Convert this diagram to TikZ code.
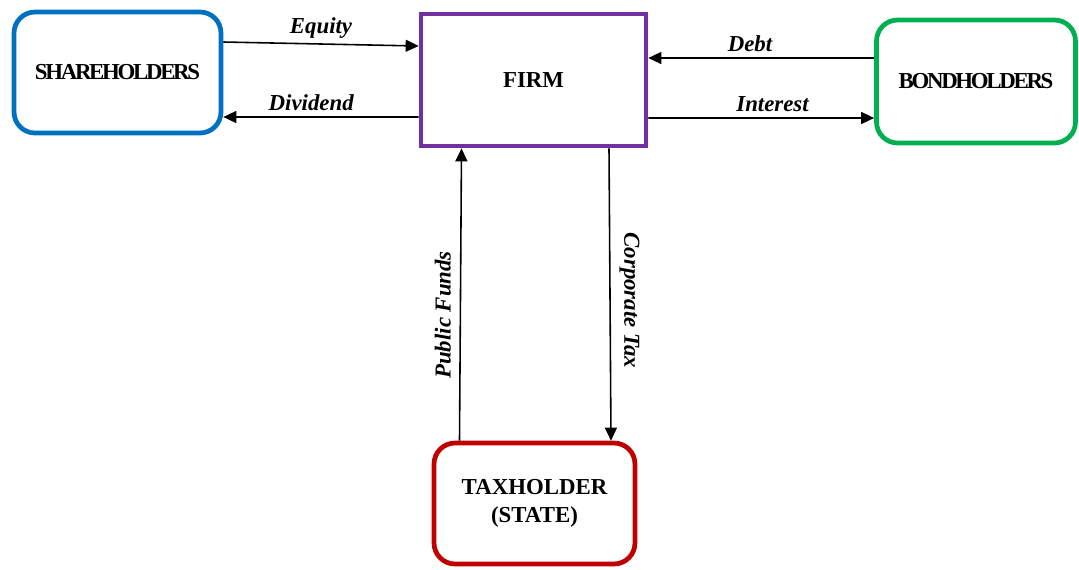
\documentclass[tikz,border=0pt]{standalone}
\usepackage{fontspec}
\setmainfont{Liberation Serif}
\usetikzlibrary{arrows.meta,calc}
\definecolor{shareblue}{RGB}{0,112,192}
\definecolor{firmpurple}{RGB}{112,48,160}
\definecolor{bondgreen}{RGB}{0,176,80}
\definecolor{taxred}{RGB}{192,0,0}

\begin{document}
\begin{tikzpicture}[x=0.02cm,y=-0.02cm,
  party/.style={draw, line width=2.7pt, rounded corners=0.42cm, align=center,
    font=\fontsize{13}{16}\selectfont\bfseries},
  squeezed/.style={font=\fontsize{13}{16}\selectfont\bfseries\addfontfeature{LetterSpace=-10}},
  flow/.style={line width=0.9pt, -{Triangle[length=2.6mm,width=2.4mm]}},
  lbl/.style={font=\fontsize{13}{15}\selectfont\bfseries\itshape, inner sep=1pt}]
\useasboundingbox (0,0) rectangle (1079,569);

% parties
\node[party, squeezed, draw=shareblue, minimum width=4.14cm, minimum height=2.42cm] (share) at (117.5,72.5) {SHAREHOLDERS};
\node[party, draw=firmpurple, rounded corners=0pt, minimum width=4.5cm, minimum height=2.64cm] (firm) at (533.5,80) {FIRM};
\node[party, squeezed, draw=bondgreen, minimum width=3.98cm, minimum height=2.46cm] (bond) at (976,81.5) {BONDHOLDERS};
\node[party, draw=taxred, minimum width=4.02cm, minimum height=2.42cm] (tax) at (534.5,503.5) {TAXHOLDER\\(STATE)};

% flows
\draw[flow] ($(share.east)+(0,-30.5)$) -- node[lbl, above=2pt] {Equity} ($(firm.west)+(0,-34)$);
\draw[flow] ($(firm.west)+(0,37)$) -- node[lbl, above=2pt, pos=0.55] {Dividend} ($(share.east)+(0,44.5)$);
\draw[flow] ($(bond.west)+(0,-23.5)$) -- node[lbl, above=2pt, pos=0.55] {Debt} ($(firm.east)+(0,-22)$);
\draw[flow] ($(firm.east)+(0,38)$) -- node[lbl, above=2pt, pos=0.55] {Interest} ($(bond.west)+(0,36.5)$);
\draw[flow] ($(tax.north)+(-75,0)$) -- node[lbl, rotate=90, anchor=south, pos=0.43, yshift=4pt] {Public Funds} ($(firm.south)+(-72,0)$);
\draw[flow] ($(firm.south)+(75.5,0)$) -- node[lbl, rotate=-90, anchor=south, pos=0.52, yshift=4pt] {Corporate Tax} ($(tax.north)+(76.5,0)$);
\end{tikzpicture}
\end{document}
